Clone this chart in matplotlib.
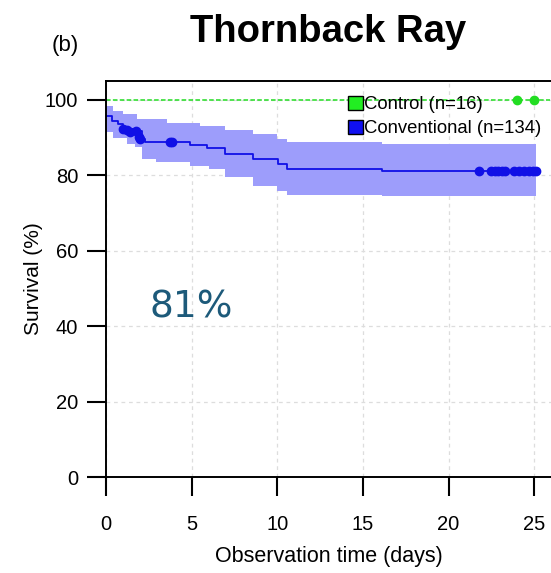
import numpy as np
import matplotlib.pyplot as plt
from matplotlib.patches import Patch

# Kaplan-Meier steps (days, survival %)
conv_t = [0.0, 0.33, 0.72, 1.0, 1.8, 2.08, 2.28, 4.9, 5.88, 6.95, 8.6, 10.06, 10.55, 16.1, 25.1]
conv_s = [95.7, 94.4, 93.5, 92.3, 91.8, 89.5, 88.7, 88.0, 87.3, 85.6, 84.2, 82.9, 81.8, 81.1, 81.1]

# confidence band, its own steps
band_t = [0.0, 0.43, 1.01, 1.2, 1.7, 1.79, 2.08, 2.9, 3.54, 4.9, 5.49, 6.0, 6.95, 8.6, 10.0, 10.55, 16.1, 25.1]
band_up = [98.5, 97.1, 96.2, 96.2, 96.2, 94.9, 94.9, 94.9, 94.0, 94.0, 93.1, 93.1, 92.0, 90.9, 89.6, 88.7, 88.2, 88.2]
band_lo = [91.4, 90.0, 90.0, 88.2, 87.4, 87.4, 84.2, 83.4, 83.4, 82.5, 82.5, 81.6, 79.5, 77.1, 75.8, 74.9, 74.5, 74.5]

conv_cens = [1.0, 1.2, 1.4, 1.75, 1.9, 2.0, 3.74, 3.85,
             21.75, 22.5, 22.7, 22.9, 23.1, 23.3, 23.8, 24.1, 24.4, 24.7, 24.9, 25.1]
conv_cens_s = [92.2, 92.0, 91.6, 91.8, 90.2, 89.5, 88.7, 88.7,
               81.1, 81.1, 81.1, 81.1, 81.1, 81.1, 81.1, 81.1, 81.1, 81.1, 81.1, 81.1]

ctrl_t = [0.0, 25.9]
ctrl_s = [100, 100]
ctrl_cens = [24.0, 25.0]

plt.rcParams['font.family'] = ['Liberation Sans', 'DejaVu Sans']

fig = plt.figure(figsize=(5.51, 5.73), dpi=100)
ax = fig.add_axes([0.1924, 0.1675, 0.8076, 0.6911])

ax.fill_between(band_t, band_lo, band_up, step='post', color='#9d9dfb', lw=0)
ax.step(conv_t, conv_s, where='post', color='#1010e6', lw=1.3)
ax.plot(conv_cens, conv_cens_s, 'o', color='#1010e6', ms=6)

ax.plot(ctrl_t, ctrl_s, '--', color='#22dd22', lw=1.1, dashes=(3, 1.5))
ax.plot(ctrl_cens, [100] * len(ctrl_cens), 'o', color='#22dd22', ms=6)

ax.set_xlim(0, 25.98)
ax.set_ylim(0, 105)
ax.set_xticks([0, 5, 10, 15, 20, 25])
ax.set_yticks([0, 20, 40, 60, 80, 100])
ax.grid(True, color='#dddddd', ls=(0, (3, 3)), lw=0.9)
ax.set_axisbelow(True)
ax.spines['right'].set_visible(False)
for s in ['left', 'top', 'bottom']:
    ax.spines[s].set_linewidth(1.4)
ax.tick_params(direction='out', length=14, width=1.5, labelsize=14.5)
ax.tick_params(axis='x', pad=13)
ax.tick_params(axis='y', pad=6)

ax.set_xlabel('Observation time (days)', fontsize=15.5, labelpad=9)
ax.set_ylabel('Survival (%)', fontsize=15, labelpad=1)

handles = [Patch(facecolor='#22ee22', edgecolor='black', lw=1),
           Patch(facecolor='#1010f0', edgecolor='black', lw=1)]
ax.legend(handles, ['Control (n=16)', 'Conventional (n=134)'], loc='upper right',
          bbox_to_anchor=(1.008, 0.995), frameon=False, fontsize=13.3,
          handlelength=0.8, handleheight=0.8, handletextpad=0.1, labelspacing=0.33,
          borderpad=0.2)

ax.text(4.95, 45, '81%', color='#1d5a7a', fontsize=27, family='DejaVu Sans',
        ha='center', va='center')

fig.text(0.596, 0.945, 'Thornback Ray', fontsize=27.5, fontweight='bold', ha='center', va='center')
fig.text(0.118, 0.921, '(b)', fontsize=16, ha='center', va='center')

fig.savefig('out.png', dpi=100)
